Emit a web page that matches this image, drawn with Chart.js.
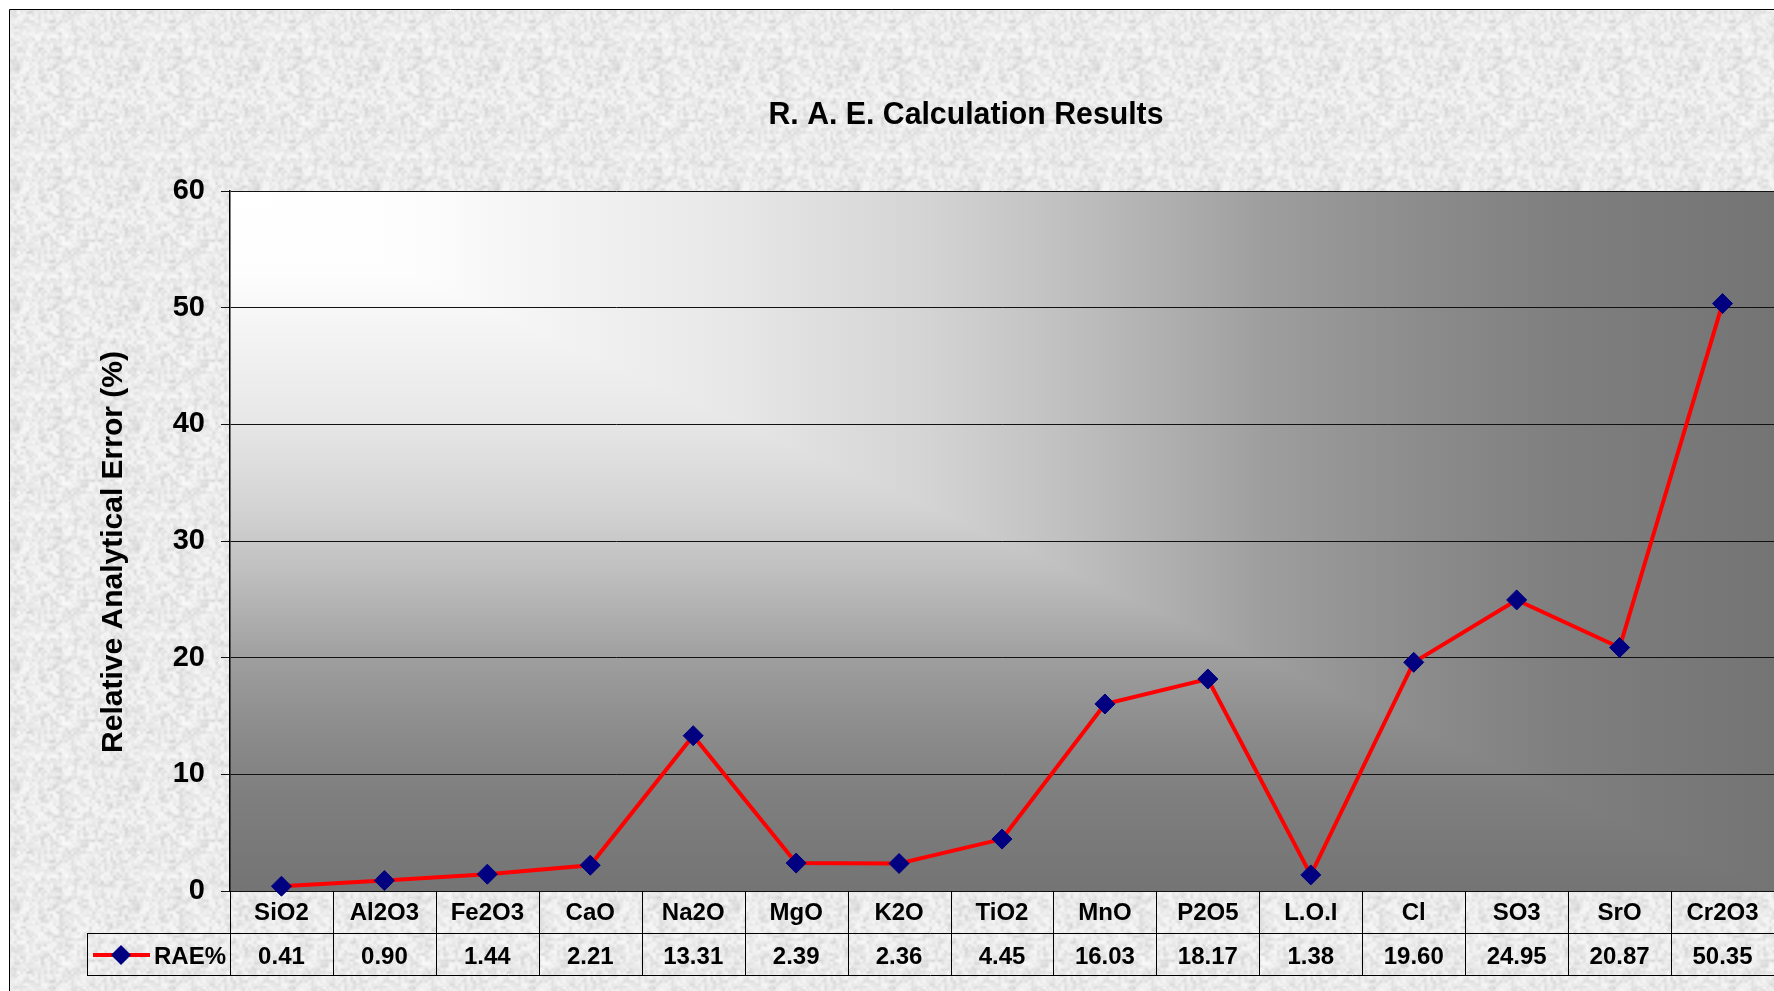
<!DOCTYPE html>
<html><head><meta charset="utf-8">
<script src="https://cdn.jsdelivr.net/npm/chart.js@4.4.1/dist/chart.umd.min.js"></script>
<style>html,body{margin:0;padding:0;background:#fff;overflow:hidden}</style>
</head><body>
<canvas id="c" width="1774" height="991"></canvas>
<script>
const categories = ['SiO2','Al2O3','Fe2O3','CaO','Na2O','MgO','K2O','TiO2','MnO','P2O5','L.O.I','Cl','SO3','SrO','Cr2O3'];
const raeValues = [0.41, 0.90, 1.44, 2.21, 13.31, 2.39, 2.36, 4.45, 16.03, 18.17, 1.38, 19.60, 24.95, 20.87, 50.35];
const valueLabels = ['0.41','0.90','1.44','2.21','13.31','2.39','2.36','4.45','16.03','18.17','1.38','19.60','24.95','20.87','50.35'];
const yMin = 0, yMax = 60, yStep = 10;
const seriesName = 'RAE%';
const chartTitle = 'R. A. E. Calculation Results';
const yAxisTitle = 'Relative Analytical Error (%)';

const FONT = 'Arial, "Liberation Sans", Helvetica, sans-serif';
const LINE_COLOR = '#ff0000';
const MARKER_COLOR = '#000080';

// deterministic stone-like texture tile for the chart background
function makeTexture() {
  const S = 120;
  const cv = document.createElement('canvas'); cv.width = S; cv.height = S;
  const c = cv.getContext('2d');
  const img = c.createImageData(S, S);
  function hash(x, y, s) {
    let h = (x * 374761393 + y * 668265263 + s * 1442695041) | 0;
    h = Math.imul(h ^ (h >>> 13), 1274126177);
    h = h ^ (h >>> 16);
    return (h >>> 0) / 4294967295;
  }
  function noise(x, y, cell, seed) {
    const n = S / cell;
    const gx = x / cell, gy = y / cell;
    const x0 = Math.floor(gx), y0 = Math.floor(gy);
    const fx = gx - x0, fy = gy - y0;
    const a = hash(x0 % n, y0 % n, seed), b = hash((x0 + 1) % n, y0 % n, seed);
    const d = hash(x0 % n, (y0 + 1) % n, seed), e = hash((x0 + 1) % n, (y0 + 1) % n, seed);
    const top = a + (b - a) * fx, bot = d + (e - d) * fx;
    return top + (bot - top) * fy;
  }
  for (let y = 0; y < S; y++) {
    for (let x = 0; x < S; x++) {
      const v = 0.55 * noise(x, y, 3, 1) + 0.3 * noise(x, y, 6, 2) + 0.15 * noise(x, y, 2, 3);
      const g = Math.round(250 - Math.pow(v, 1.6) * 48);
      const i = (y * S + x) * 4;
      img.data[i] = g; img.data[i + 1] = g; img.data[i + 2] = g; img.data[i + 3] = 255;
    }
  }
  c.putImageData(img, 0, 0);
  return cv;
}
const textureTile = makeTexture();

const bgPlugin = {
  id: 'bg',
  beforeDraw(chart) {
    const ctx = chart.ctx, W = chart.width, H = chart.height, a = chart.chartArea;
    ctx.save();
    ctx.fillStyle = '#ffffff'; ctx.fillRect(0, 0, W, H);
    ctx.fillStyle = ctx.createPattern(textureTile, 'repeat');
    ctx.fillRect(9, 9, W - 9, H - 9);
    ctx.strokeStyle = '#000'; ctx.lineWidth = 1;
    ctx.beginPath(); ctx.moveTo(9.5, H); ctx.lineTo(9.5, 9.5); ctx.lineTo(W, 9.5); ctx.stroke();
    const stops = [[0,'#ffffff'],[0.12,'#fdfdfd'],[0.2,'#f4f4f4'],[0.32,'#e8e8e8'],[0.45,'#d4d4d4'],[0.54,'#c0c0c0'],[0.61,'#aeaeae'],[0.67,'#9e9e9e'],[0.77,'#8c8c8c'],[0.86,'#7f7f7f'],[1,'#747474']];
    const L = a.left, T = a.top, R = a.right, B = a.bottom;
    const gh = ctx.createLinearGradient(L, 0, R, 0), gv = ctx.createLinearGradient(0, T, 0, B);
    stops.forEach(s => { gh.addColorStop(s[0], s[1]); gv.addColorStop(s[0], s[1]); });
    ctx.fillStyle = gv; ctx.fillRect(L, T, R - L, B - T);
    ctx.fillStyle = gh; ctx.beginPath(); ctx.moveTo(L, T); ctx.lineTo(R, T); ctx.lineTo(R, B); ctx.closePath(); ctx.fill();
    ctx.restore();
  }
};

const tablePlugin = {
  id: 'table',
  afterDraw(chart) {
    const ctx = chart.ctx, W = chart.width, a = chart.chartArea;
    const xs = chart.scales.x;
    const band = xs.getPixelForValue(1) - xs.getPixelForValue(0);
    const row1 = a.bottom + 42, row2 = a.bottom + 84, legLeft = 87;
    ctx.save();
    // title (condensed bold)
    ctx.fillStyle = '#000';
    ctx.font = 'bold 32px ' + FONT;
    ctx.textAlign = 'center'; ctx.textBaseline = 'alphabetic';
    const tw = ctx.measureText(chartTitle).width;
    ctx.save();
    ctx.translate(966, 124); ctx.scale(395 / tw, 1);
    ctx.fillText(chartTitle, 0, 0);
    ctx.restore();
    // y axis title
    ctx.save();
    ctx.translate(122, 552); ctx.rotate(-Math.PI / 2);
    ctx.font = 'bold 30px ' + FONT;
    ctx.fillText(yAxisTitle, 0, 0);
    ctx.restore();
    // table lines
    ctx.strokeStyle = '#000'; ctx.lineWidth = 1;
    ctx.beginPath();
    ctx.moveTo(legLeft, row1 + 0.5); ctx.lineTo(W, row1 + 0.5);
    ctx.moveTo(legLeft, row2 + 0.5); ctx.lineTo(W, row2 + 0.5);
    ctx.moveTo(legLeft + 0.5, row1); ctx.lineTo(legLeft + 0.5, row2 + 1);
    for (let i = 0; i <= categories.length; i++) {
      const x = Math.round(xs.getPixelForValue(i) - band / 2) + 0.5;
      ctx.moveTo(x, a.bottom); ctx.lineTo(x, row2 + 1);
    }
    ctx.stroke();
    // values row
    ctx.font = 'bold 24px ' + FONT;
    ctx.textAlign = 'center'; ctx.textBaseline = 'middle';
    const vy = (row1 + row2) / 2 + 3;
    valueLabels.forEach((v, i) => ctx.fillText(v, xs.getPixelForValue(i), vy));
    // legend key
    const ly = (row1 + row2) / 2 + 1;
    ctx.strokeStyle = LINE_COLOR; ctx.lineWidth = 4;
    ctx.beginPath(); ctx.moveTo(93, ly); ctx.lineTo(150, ly); ctx.stroke();
    ctx.fillStyle = MARKER_COLOR;
    ctx.beginPath(); ctx.moveTo(121, ly - 10); ctx.lineTo(131, ly); ctx.lineTo(121, ly + 10); ctx.lineTo(111, ly); ctx.closePath(); ctx.fill();
    ctx.fillStyle = '#000'; ctx.textAlign = 'left';
    ctx.fillText(seriesName, 154, vy);
    ctx.restore();
  }
};

new Chart(document.getElementById('c'), {
  type: 'line',
  data: {
    labels: categories,
    datasets: [{
      label: seriesName,
      data: raeValues,
      borderColor: LINE_COLOR,
      borderWidth: 4,
      tension: 0,
      pointStyle: 'rectRot',
      pointRadius: 10,
      pointHoverRadius: 10,
      pointBackgroundColor: MARKER_COLOR,
      pointBorderColor: MARKER_COLOR,
      pointBorderWidth: 1,
      clip: false
    }]
  },
  options: {
    responsive: false,
    animation: false,
    devicePixelRatio: 1,
    layout: { autoPadding: false, padding: { top: 191, left: 10, right: 0, bottom: 0 } },
    plugins: { legend: { display: false }, title: { display: false }, tooltip: { enabled: false } },
    events: [],
    scales: {
      x: {
        offset: true,
        grid: { display: false },
        border: { display: false },
        ticks: { color: '#000', font: { family: FONT, size: 24, weight: 'bold' }, padding: 0, autoSkip: false, maxRotation: 0 },
        afterFit(s) { s.height = 100; }
      },
      y: {
        min: yMin, max: yMax,
        grid: { color: '#111', lineWidth: 1, tickLength: 9, drawTicks: true },
        border: { display: true, color: '#000', width: 1.5 },
        ticks: { stepSize: yStep, color: '#000', font: { family: FONT, size: 29, weight: 'bold' }, padding: 16 },
        afterFit(s) { s.width = 220; }
      }
    }
  },
  plugins: [bgPlugin, tablePlugin]
});
</script>
</body></html>
